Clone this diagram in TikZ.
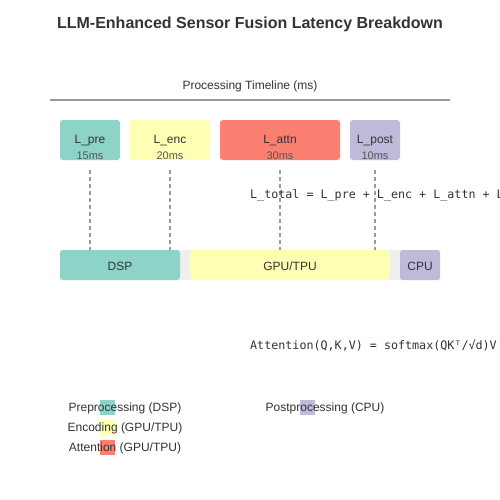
\documentclass[tikz,border=0pt]{standalone}
\usepackage{fontspec}
\setmainfont{Liberation Sans}
\newfontfamily\monof{DejaVu Sans Mono}
\usetikzlibrary{calc}
\definecolor{cteal}{HTML}{8DD3C7}
\definecolor{cyel}{HTML}{FFFFB3}
\definecolor{cred}{HTML}{FB8072}
\definecolor{cpur}{HTML}{BEBADA}
\definecolor{cbg}{HTML}{EEEEEE}
\definecolor{ctxt}{HTML}{333333}
\definecolor{csub}{HTML}{555555}
\definecolor{cline}{HTML}{999999}
\tikzset{
  blk/.style={rounded corners=3pt, inner sep=0pt, outer sep=0pt},
  lbl/.style={text=ctxt, font=\fontsize{12}{14}\selectfont, inner sep=0pt},
  sub/.style={text=csub, font=\fontsize{11}{13}\selectfont, inner sep=0pt},
  vline/.style={draw=cline, line width=1.5pt, dash pattern=on 4pt off 3pt},
  mono/.style={text=ctxt, font=\monof\fontsize{11.7}{14}\selectfont, inner sep=0pt, anchor=west},
  sw/.style={inner sep=0pt, outer sep=0pt, minimum width=15pt, minimum height=15pt},
}
\begin{document}
\begin{tikzpicture}[x=1pt,y=-1pt]
\useasboundingbox[fill=white] (0,0) rectangle (500,500);
% title
\node[text=ctxt, font=\bfseries\fontsize{16}{19}\selectfont, inner sep=0pt] (title) at (250,24) {LLM-Enhanced Sensor Fusion Latency Breakdown};
\node[lbl] (tl) at (250,86) {Processing Timeline (ms)};
\coordinate (tlA) at (50,100);
\coordinate (tlB) at (450,100);
\draw[draw=cline, line width=2pt] (tlA) -- (tlB);
% top boxes
\fill[blk, cteal] (60,120) rectangle (120,160);
\fill[blk, cyel] (130,120) rectangle (210,160);
\fill[blk, cred] (220,120) rectangle (340,160);
\fill[blk, cpur] (350,120) rectangle (400,160);
\node[lbl] (pre) at (90,141) {L\_pre};
\node[sub] (pret) at (90,156) {15ms};
\node[lbl] (enc) at (170,141) {L\_enc};
\node[sub] (enct) at (170,156) {20ms};
\node[lbl] (attn) at (280,141) {L\_attn};
\node[sub] (attnt) at (280,156) {30ms};
\node[lbl] (post) at (375,141) {L\_post};
\node[sub] (postt) at (375,156) {10ms};
% bottom bar
\fill[cbg] (60,250) rectangle (440,280);
\fill[blk, cteal] (60,250) rectangle (180,280);
\fill[blk, cyel] (190,250) rectangle (390,280);
\fill[blk, cpur] (400,250) rectangle (440,280);
\node[lbl] (dsp) at (120,266) {DSP};
\node[lbl] (gpu) at (290,266) {GPU/TPU};
\node[lbl] (cpu) at (420,266) {CPU};
% dashed connectors
\foreach \n/\x in {a/90,b/170,c/280,d/375}{
  \coordinate (s\n) at (\x,170);
  \coordinate (e\n) at (\x,250);
}
\draw[vline] (sa) -- (ea);
\draw[vline] (sb) -- (eb);
\draw[vline] (sc) -- (ec);
\draw[vline] (sd) -- (ed);
% formulas
\node[mono] (ltot) at (250,195) {L\_total = L\_pre + L\_enc + L\_attn + L\_post};
\node[mono] (att) at (250,345) {Attention(Q,K,V) = softmax(QKᵀ/√d)V};
% legend
\node[sw, fill=cteal] (sw1) at (107.5,407.5) {};
\node[sw, fill=cyel] (sw2) at (107.5,427.5) {};
\node[sw, fill=cred] (sw3) at (107.5,447.5) {};
\node[sw, fill=cpur] (sw4) at (307.5,407.5) {};
\node[lbl] (lg1) at (125,408) {Preprocessing (DSP)};
\node[lbl] (lg2) at (125,428) {Encoding (GPU/TPU)};
\node[lbl] (lg3) at (125,448) {Attention (GPU/TPU)};
\node[lbl] (lg4) at (325,408) {Postprocessing (CPU)};
\end{tikzpicture}
\end{document}
